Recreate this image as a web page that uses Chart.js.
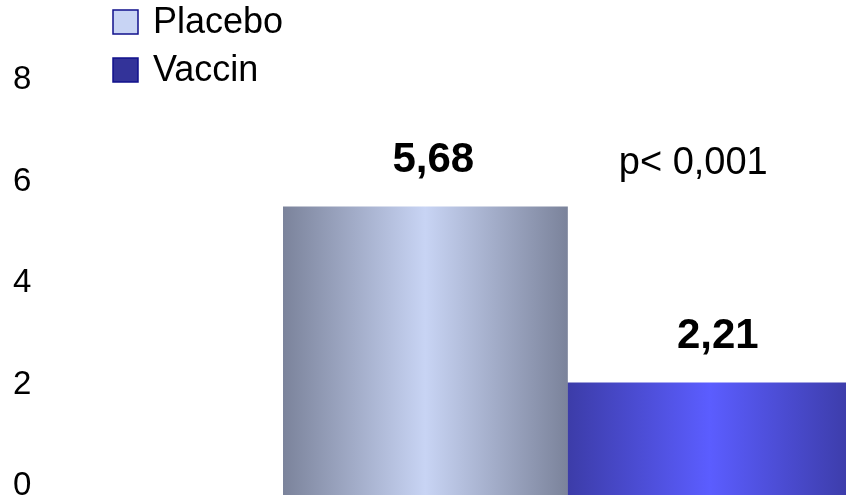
<!DOCTYPE html>
<html>
<head>
<meta charset="utf-8">
<script src="https://cdn.jsdelivr.net/npm/chart.js@4/dist/chart.umd.min.js"></script>
<style>
    html, body { margin: 0; padding: 0; background: #fff; overflow: hidden; }
    #wrap { width: 852px; height: 498px; }
</style>
</head>
<body>
<div id="wrap"><canvas id="chart" width="852" height="498"></canvas></div>
<script>
// Data
const categories = [''];
const seriesNames = ['Placebo', 'Vaccin'];
const placeboValues = [5.68];
const vaccinValues = [2.21];
const valueLabels = ['5,68', '2,21'];
const yTicks = [0, 2, 4, 6, 8];
const pValueText = 'p< 0,001';

// Colors
const colors = {
    placeboEdge: '#7b839b',
    placeboMid: '#c8d4f4',
    vaccinEdge: '#3c3ca8',
    vaccinMid: '#5b5dff',
    legendBorder: '#10108c',
    placeboLegend: '#c8d4f4',
    vaccinLegend: '#333399'
};

const FONT = '"Liberation Sans", Arial, sans-serif';

// Horizontal gradient over each bar
const gradientBars = {
    id: 'gradientBars',
    beforeDatasetsDraw(chart) {
        const ctx = chart.ctx;
        const stops = [
            [colors.placeboEdge, colors.placeboMid],
            [colors.vaccinEdge, colors.vaccinMid]
        ];
        chart.data.datasets.forEach((ds, i) => {
            chart.getDatasetMeta(i).data.forEach(bar => {
                const half = bar.width / 2;
                const g = ctx.createLinearGradient(bar.x - half, 0, bar.x + half, 0);
                g.addColorStop(0, stops[i][0]);
                g.addColorStop(0.5, stops[i][1]);
                g.addColorStop(1, stops[i][0]);
                bar.options.backgroundColor = g;
            });
        });
    }
};

// Value labels, p-value and legend
const annotations = {
    id: 'annotations',
    afterDraw(chart) {
        const ctx = chart.ctx;
        const yScale = chart.scales.y;
        ctx.save();
        ctx.fillStyle = '#000';
        ctx.textBaseline = 'middle';

        // thin white baseline like the original
        ctx.fillStyle = '#fff';
        ctx.fillRect(chart.chartArea.left, chart.chartArea.bottom, chart.chartArea.right - chart.chartArea.left, 1);
        ctx.fillStyle = '#000';

        // bold values above bars
        ctx.font = 'bold 42px ' + FONT;
        ctx.textAlign = 'center';
        chart.data.datasets.forEach((ds, i) => {
            const bar = chart.getDatasetMeta(i).data[0];
            ctx.fillText(valueLabels[i], bar.x + 8, bar.y - 46);
        });

        // p-value
        const vBar = chart.getDatasetMeta(1).data[0];
        ctx.font = '38px ' + FONT;
        ctx.textAlign = 'left';
        ctx.fillText(pValueText, vBar.x - 91, yScale.getPixelForValue(6.54));

        // legend
        const legendFill = [colors.placeboLegend, colors.vaccinLegend];
        ctx.font = '36px ' + FONT;
        seriesNames.forEach((name, i) => {
            const top = 10 + i * 48;
            ctx.fillStyle = legendFill[i];
            ctx.fillRect(113, top, 25, 24);
            ctx.strokeStyle = colors.legendBorder;
            ctx.lineWidth = 1.5;
            ctx.strokeRect(113, top, 25, 24);
            ctx.fillStyle = '#000';
            ctx.fillText(name, 153, top + 13);
        });
        ctx.restore();
    }
};

new Chart(document.getElementById('chart').getContext('2d'), {
    type: 'bar',
    data: {
        labels: categories,
        datasets: [
            { label: seriesNames[0], data: placeboValues, backgroundColor: colors.placeboMid, borderWidth: 0 },
            { label: seriesNames[1], data: vaccinValues, backgroundColor: colors.vaccinMid, borderWidth: 0 }
        ]
    },
    options: {
        responsive: false,
        animation: false,
        layout: { padding: { left: 13, top: 89, bottom: 3, right: 0 } },
        datasets: { bar: { categoryPercentage: 1, barPercentage: 1 } },
        plugins: {
            legend: { display: false },
            tooltip: { enabled: false }
        },
        scales: {
            x: { display: false },
            y: {
                min: 0,
                max: 8,
                afterBuildTicks: scale => { scale.ticks = yTicks.map(v => ({ value: v })); },
                afterFit: scale => {
                    scale.width = 270;
                    scale.paddingTop = 0;
                    scale.paddingBottom = 0;
                },
                grid: { display: false },
                border: { display: false },
                ticks: {
                    crossAlign: 'far',
                    padding: 0,
                    labelOffset: -9,
                    color: '#000',
                    font: { family: FONT, size: 33 }
                }
            }
        }
    },
    plugins: [gradientBars, annotations]
});
</script>
</body>
</html>
